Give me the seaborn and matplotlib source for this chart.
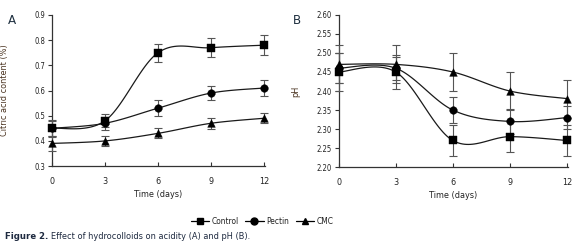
import numpy as np
import pandas as pd
import matplotlib
matplotlib.use("Agg")
import matplotlib.pyplot as plt
from matplotlib.lines import Line2D
from matplotlib import font_manager
import seaborn as sns

# ---------------- data ----------------
days = [0, 3, 6, 9, 12]
series = ["Control", "Pectin", "CMC"]

acid_control = [0.45, 0.48, 0.75, 0.77, 0.78]
acid_pectin = [0.45, 0.47, 0.53, 0.59, 0.61]
acid_cmc = [0.39, 0.40, 0.43, 0.47, 0.49]
acid_control_err = [0.035, 0.025, 0.036, 0.038, 0.040]
acid_pectin_err = [0.030, 0.025, 0.033, 0.028, 0.030]
acid_cmc_err = [0.030, 0.019, 0.020, 0.021, 0.019]

ph_control = [2.45, 2.45, 2.27, 2.28, 2.27]
ph_pectin = [2.46, 2.46, 2.35, 2.32, 2.33]
ph_cmc = [2.47, 2.47, 2.45, 2.40, 2.38]
ph_control_err = [0.05, 0.045, 0.04, 0.04, 0.04]
ph_pectin_err = [0.04, 0.03, 0.033, 0.033, 0.03]
ph_cmc_err = [0.05, 0.05, 0.05, 0.05, 0.05]

acid_ticks = [0.3, 0.4, 0.5, 0.6, 0.7, 0.8, 0.9]
ph_ticks = [2.20, 2.25, 2.30, 2.35, 2.40, 2.45, 2.50, 2.55, 2.60]

# ---------------- style ----------------
sns.set_theme(style="ticks")
avail = {f.name for f in font_manager.fontManager.ttflist}
if "Liberation Sans Narrow" in avail:
    fam = ["Liberation Sans Narrow", "DejaVu Sans"]
    stretch = "normal"
else:
    fam = ["DejaVu Sans"]
    stretch = "condensed"
plt.rcParams["font.family"] = fam
plt.rcParams["font.stretch"] = stretch

TXT = "#222222"
markers = {"Control": "s", "Pectin": "o", "CMC": "^"}
msize = {"Control": 5.5, "Pectin": 5.5, "CMC": 5.5}


def smooth(x, y, n=30):
    """Excel-like smoothed line (Catmull-Rom Bezier) through the points."""
    P = np.column_stack([x, y]).astype(float)
    P = np.vstack([P[0], P, P[-1]])
    out = []
    t = np.linspace(0, 1, n)[:, None]
    for i in range(1, len(P) - 2):
        p0, p1, p2, p3 = P[i - 1], P[i], P[i + 1], P[i + 2]
        b1 = p1 + (p2 - p0) / 6.0
        b2 = p2 - (p3 - p1) / 6.0
        seg = ((1 - t) ** 3) * p1 + 3 * ((1 - t) ** 2) * t * b1 + 3 * (1 - t) * t ** 2 * b2 + t ** 3 * p2
        out.append(seg if i == 1 else seg[1:])
    s = np.vstack(out)
    return s[:, 0], s[:, 1]


def draw_panel(ax, vals, errs, ylim, yticks, yfmt, ylabel):
    for name in series:
        y = vals[name]
        sx, sy = smooth(days, y)
        curve = pd.DataFrame({"x": sx, "y": sy})
        sns.lineplot(data=curve, x="x", y="y", sort=False, color="#1a1a1a",
                     lw=0.9, ax=ax, estimator=None, clip_on=False)
        ax.errorbar(days, y, yerr=errs[name], fmt="none", ecolor="#555555",
                    elinewidth=0.8, capsize=3, capthick=0.8, clip_on=False, zorder=3)
        pts = pd.DataFrame({"x": days, "y": y})
        sns.scatterplot(data=pts, x="x", y="y", marker=markers[name],
                        s=msize[name] ** 2, color="black", edgecolor="black",
                        linewidth=0.3, ax=ax, zorder=4, clip_on=False)
    ax.set_xlim(0, 12.05)
    ax.set_ylim(*ylim)
    ax.set_xticks(days)
    ax.set_xticklabels([str(d) for d in days], fontsize=6.5, color=TXT)
    ax.set_yticks(yticks)
    ax.set_yticklabels([yfmt % v for v in yticks], fontsize=5.5, color=TXT)
    ax.tick_params(axis="x", direction="in", length=3, width=0.8, pad=8, colors="#333333",
                   labelcolor=TXT)
    ax.tick_params(axis="y", direction="out", length=3, width=0.8, pad=2, colors="#333333",
                   labelcolor=TXT)
    for s in ["top", "right"]:
        ax.spines[s].set_visible(False)
    for s in ["left", "bottom"]:
        ax.spines[s].set_linewidth(0.9)
        ax.spines[s].set_color("#333333")
    ax.set_xlabel("Time (days)", fontsize=6.5, color=TXT, labelpad=3)
    ax.set_ylabel(ylabel, fontsize=6.5, color="#4a3320", labelpad=4)


fig = plt.figure(figsize=(5.8, 2.45), dpi=100)
axA = fig.add_axes([0.0897, 0.322, 0.367, 0.617])
axB = fig.add_axes([0.584, 0.318, 0.395, 0.621])

draw_panel(axA,
           {"Control": acid_control, "Pectin": acid_pectin, "CMC": acid_cmc},
           {"Control": acid_control_err, "Pectin": acid_pectin_err, "CMC": acid_cmc_err},
           (0.3, 0.9), acid_ticks, "%.1f", "Citric acid content (%)")
draw_panel(axB,
           {"Control": ph_control, "Pectin": ph_pectin, "CMC": ph_cmc},
           {"Control": ph_control_err, "Pectin": ph_pectin_err, "CMC": ph_cmc_err},
           (2.20, 2.60), ph_ticks, "%.2f", "pH")
axB.yaxis.set_label_coords(-0.17, 0.5)
axA.yaxis.set_label_coords(-0.2, 0.5)

fig.text(8 / 580, 1 - 20 / 245, "A", fontsize=9.5, color="#1f3040", ha="left", va="center")
fig.text(293 / 580, 1 - 20 / 245, "B", fontsize=9.5, color="#1f3040", ha="left", va="center")

handles = [Line2D([0], [0], color="black", lw=0.9, marker=markers[n], markersize=5)
           for n in series]
fig.legend(handles, series, loc="center", bbox_to_anchor=(262 / 580, 1 - 221 / 245),
           ncol=3, frameon=False, fontsize=6, handlelength=2.2, handletextpad=0.3,
           columnspacing=0.8, labelcolor=TXT)

t1 = fig.text(5 / 580, 1 - 236 / 245, "Figure 2. ", fontsize=6.8, color="#1e2a40",
              ha="left", va="center", fontweight="bold")
fig.canvas.draw()
bb = t1.get_window_extent()
fig.text(bb.x1 / 580, 1 - 236 / 245, "Effect of hydrocolloids on acidity (A) and pH (B).",
         fontsize=6.6, color="#1e2a40", ha="left", va="center")

fig.savefig("out.png", dpi=100)
